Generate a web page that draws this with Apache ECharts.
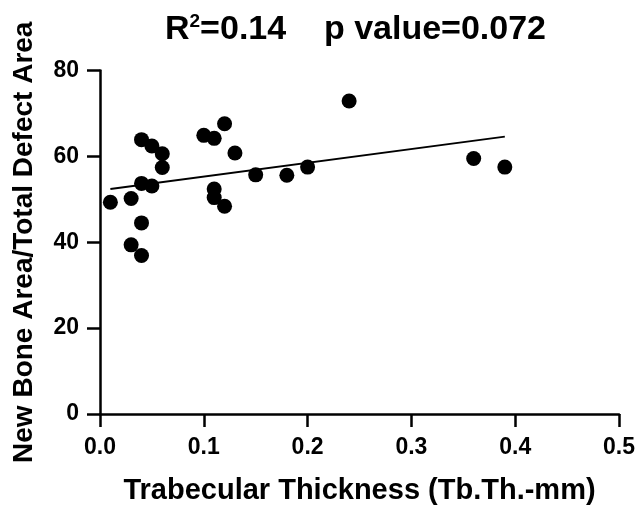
<!DOCTYPE html>
<html><head><meta charset="utf-8">
<script src="https://cdn.jsdelivr.net/npm/echarts@6/dist/echarts.min.js"></script>
<style>html,body{margin:0;padding:0;background:#fff}#c{width:638px;height:510px}</style>
</head><body><div id="c"></div>
<script>
const thickness = [0.01,0.03,0.04,0.05,0.06,0.06,0.04,0.05,0.04,0.03,0.04,0.10,0.11,0.12,0.13,0.11,0.11,0.12,0.15,0.18,0.20,0.24,0.36,0.39];
const boneRatio = [49.3,50.2,63.9,62.4,60.6,57.4,53.7,53.1,44.5,39.4,36.9,64.9,64.2,67.6,60.8,52.4,50.4,48.4,55.7,55.6,57.5,72.9,59.5,57.5];
const fitX = [0.01, 0.39];
const fitY = [52.4, 64.6];
const xTicks = ['0.0','0.1','0.2','0.3','0.4','0.5'];
const yTicks = [0,20,40,60,80];

const FONT = 'Arial, "Liberation Sans", sans-serif';
const chart = echarts.init(document.getElementById('c'), null, {renderer:'canvas'});
chart.setOption({
  animation:false,
  backgroundColor:'#fff',
  title:{
    text:'R{sup|2}=0.14    p value=0.072',
    left:165, top:12, padding:0,
    textStyle:{fontFamily:FONT, fontWeight:'bold', fontSize:34, color:'#000',
      rich:{sup:{fontFamily:FONT, fontWeight:'bold', fontSize:19, color:'#000', verticalAlign:'top', padding:[0,0,16,0]}}}
  },
  grid:{left:100, right:19, top:70.5, bottom:93.5},
  xAxis:{
    type:'value', min:0, max:0.5, interval:0.1,
    name:'Trabecular Thickness (Tb.Th.-mm)', nameLocation:'middle', nameGap:62,
    nameTextStyle:{fontFamily:FONT, fontWeight:'bold', fontSize:29, color:'#000'},
    axisLine:{show:true, onZero:false, lineStyle:{color:'#000', width:2.5}},
    axisTick:{show:true, length:13, lineStyle:{color:'#000', width:2.5}},
    axisLabel:{fontFamily:FONT, fontWeight:'bold', fontSize:23, color:'#000', margin:22,
      formatter:(v)=>xTicks[Math.round(v*10)]},
    splitLine:{show:false}
  },
  yAxis:{
    type:'value', min:0, max:80, interval:20,
    name:'New Bone Area/Total Defect Area', nameLocation:'middle', nameGap:62, nameRotate:90,
    nameTextStyle:{fontFamily:FONT, fontWeight:'bold', fontSize:28, color:'#000'},
    axisLine:{show:true, onZero:false, lineStyle:{color:'#000', width:2.5}},
    axisTick:{show:true, length:13, lineStyle:{color:'#000', width:2.5}},
    axisLabel:{fontFamily:FONT, fontWeight:'bold', fontSize:23, color:'#000', margin:21,
      formatter:(v)=>yTicks.includes(v)?String(v):''},
    splitLine:{show:false}
  },
  series:[
    {type:'line', data:fitX.map((x,i)=>[x,fitY[i]]), symbol:'none', lineStyle:{color:'#000', width:1.8}, z:1},
    {type:'scatter', data:thickness.map((x,i)=>[x,boneRatio[i]]), symbol:'circle', symbolSize:15,
      itemStyle:{color:'#000', opacity:1}, z:2}
  ]
});
</script></body></html>
